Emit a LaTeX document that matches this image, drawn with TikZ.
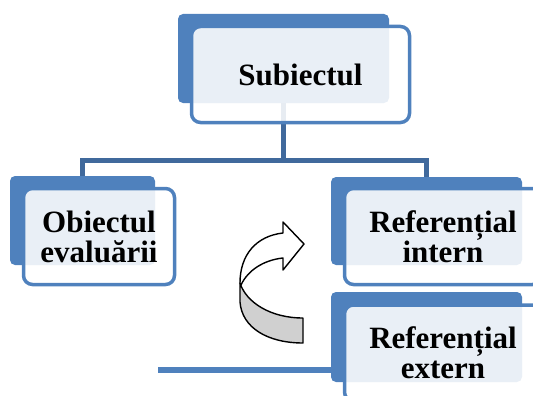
\documentclass[tikz,border=0pt]{standalone}
\usepackage{fontspec}
\setmainfont{Liberation Serif}
\definecolor{boxblue}{HTML}{4F81BD}
\definecolor{linkblue}{HTML}{40699C}
\definecolor{arrowgrey}{HTML}{D0D0D0}
\tikzset{
  backbox/.style={rectangle, fill=boxblue, rounded corners=5pt, inner sep=0pt},
  frontbox/.style={rectangle, draw=boxblue, line width=3.5pt, fill=white,
    fill opacity=0.88, text opacity=1, rounded corners=9pt, inner sep=0pt,
    align=center, font=\fontsize{31}{30}\selectfont\bfseries},
  treelink/.style={draw=linkblue, line width=5pt},
  sidelink/.style={draw=boxblue, line width=6pt},
  ribbon/.style={draw=black, line width=1.4pt, line join=round}
}
\begin{document}
\begin{tikzpicture}[x=1pt, y=-1pt]
\useasboundingbox (0,0) rectangle (533,396);

% back panels
\node[backbox, minimum width=211pt, minimum height=89pt] (subB) at (283.5,58.5) {};
\node[backbox, minimum width=145pt, minimum height=89pt] (objB) at (82.5,220.5) {};
\node[backbox, minimum width=191pt, minimum height=88pt] (riB) at (426.5,221) {};
\node[backbox, minimum width=191pt, minimum height=90pt] (reB) at (426.5,337) {};

% tree connectors
\coordinate (bar) at (283.5,160);
\draw[treelink] (subB.south) -- (bar);
\draw[treelink] (objB.north) |- (bar) -| (riB.north);

% side link into the external referential
\coordinate (sideend) at (158,369.5);
\draw[sidelink] (sideend) -- (sideend -| reB.west);

% front panels with labels
\node[frontbox, minimum width=218pt, minimum height=96pt] (sub) at (300.5,74.5) {Subiectul};
\node[frontbox, minimum width=151pt, minimum height=96pt] (obj) at (99,236.5) {Obiectul\\evaluării};
\node[frontbox, minimum width=197pt, minimum height=96pt] (rint) at (443,236.5) {Referențial\\intern};
\node[frontbox, minimum width=197pt, minimum height=96pt] (rext) at (443,353) {Referențial\\extern};

% curved ribbon arrow
\filldraw[ribbon, fill=arrowgrey]
  (240,283) -- (240,302) .. controls (242,328) and (268,343) .. (303,343)
  -- (303,318) .. controls (270,318) and (246,302) .. (240,283) -- cycle;
\filldraw[ribbon, fill=white]
  (240,283) .. controls (240,255) and (256,236) .. (283,233)
  -- (283,222) -- (304,244) -- (283,270) -- (283,258)
  .. controls (264,260) and (248,270) .. (241,285) -- cycle;
\end{tikzpicture}
\end{document}
